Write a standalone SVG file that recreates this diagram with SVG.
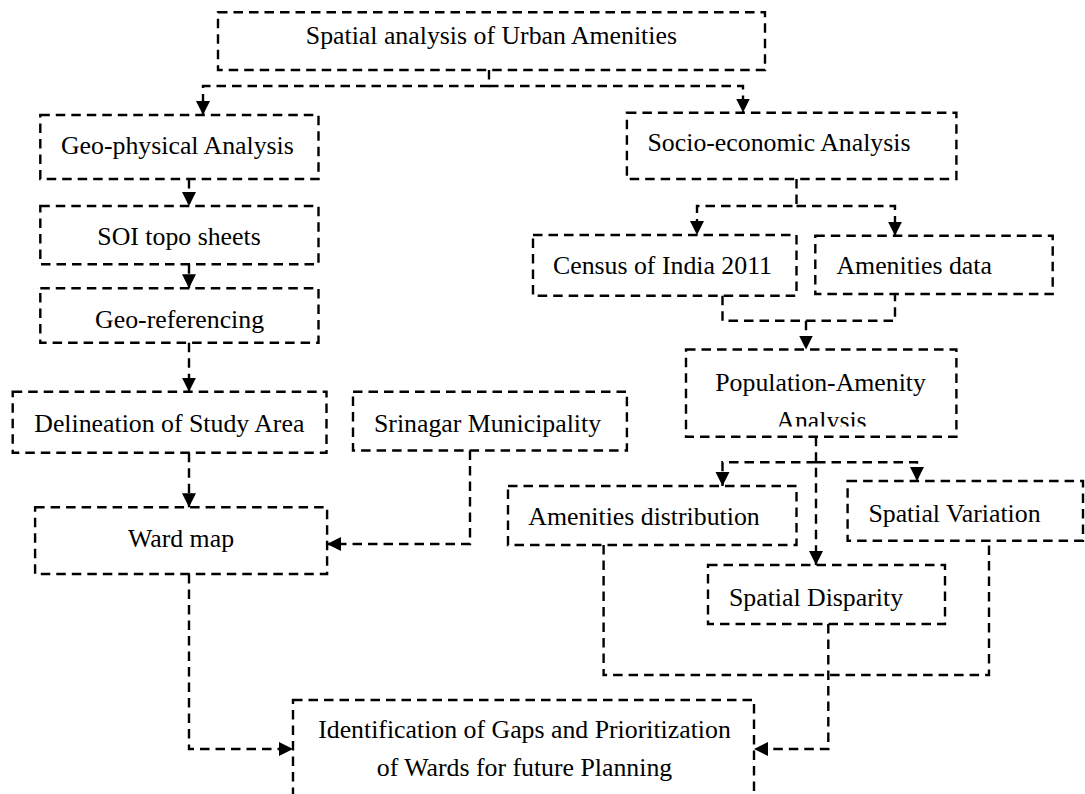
<svg xmlns="http://www.w3.org/2000/svg" width="1085" height="794" viewBox="0 0 1085 794">
<style>
.box{fill:none;stroke:#000;stroke-width:2.4;stroke-dasharray:9.5 6}
.con{fill:none;stroke:#000;stroke-width:2.4;stroke-dasharray:9.5 6}
.t{font-family:"Liberation Serif","Times New Roman",serif;font-size:25.8px;fill:#000;text-anchor:middle}
</style>
<defs>
<marker id="ah" markerUnits="userSpaceOnUse" markerWidth="15" markerHeight="15" refX="14" refY="7" orient="auto">
<path d="M0,0 L14,7 L0,14 Z" fill="#000"/>
</marker>
<clipPath id="clipA"><rect x="686" y="349" width="271" height="77.5"/></clipPath>
</defs>
<rect width="1085" height="794" fill="#fff"/>
<g id="connectors">
<path class="con" d="M489 70 V86 H203 V115" marker-end="url(#ah)"/>
<path class="con" d="M489 86 H743 V112.5" marker-end="url(#ah)"/>
<path class="con" d="M189 179 V206" marker-end="url(#ah)"/>
<path class="con" d="M189 264.3 V288.3" marker-end="url(#ah)"/>
<path class="con" d="M189 342.7 V391.7" marker-end="url(#ah)"/>
<path class="con" d="M189 452.7 V507.3" marker-end="url(#ah)"/>
<path class="con" d="M470 450.5 V544 H327" marker-end="url(#ah)"/>
<path class="con" d="M189 574 V749 H293" marker-end="url(#ah)"/>
<path class="con" d="M796.5 179 V206 H697 V235" marker-end="url(#ah)"/>
<path class="con" d="M796.5 206 H895 V235.7" marker-end="url(#ah)"/>
<path class="con" d="M722.5 295.7 V320.7 H895 V294"/>
<path class="con" d="M806 320.7 V349.5" marker-end="url(#ah)"/>
<path class="con" d="M816 436.7 V565" marker-end="url(#ah)"/>
<path class="con" d="M816 462.3 H722.5 V486" marker-end="url(#ah)"/>
<path class="con" d="M816 462.3 H917 V481" marker-end="url(#ah)"/>
<path class="con" d="M603.6 545 V675 H989 V540.7"/>
<path class="con" d="M828.3 624 V749 H754" marker-end="url(#ah)"/>
</g>
<g id="n-top"><rect class="box" x="218" y="12.3" width="547" height="57.7"/><text class="t" x="491.4" y="43.5">Spatial analysis of Urban Amenities</text></g>
<g id="n-geophys"><rect class="box" x="40.3" y="115" width="278.2" height="64"/><text class="t" x="177.4" y="154">Geo-physical Analysis</text></g>
<g id="n-socio"><rect class="box" x="626.9" y="112.7" width="329.5" height="66.3"/><text class="t" x="779" y="150.7">Socio-economic Analysis</text></g>
<g id="n-soi"><rect class="box" x="40.3" y="206" width="278.2" height="58.3"/><text class="t" x="179" y="245">SOI topo sheets</text></g>
<g id="n-georef"><rect class="box" x="40.3" y="288.3" width="278.2" height="54.4"/><text class="t" x="179.6" y="328.3">Geo-referencing</text></g>
<g id="n-census"><rect class="box" x="533" y="235" width="263.5" height="60.7"/><text class="t" x="662.5" y="274">Census of India 2011</text></g>
<g id="n-amdata"><rect class="box" x="815.3" y="235.7" width="237.4" height="58.3"/><text class="t" x="914.2" y="274">Amenities data</text></g>
<g id="n-delin"><rect class="box" x="12.7" y="391.7" width="313.8" height="61"/><text class="t" x="169.3" y="431.7">Delineation of Study Area</text></g>
<g id="n-srinagar"><rect class="box" x="353" y="391.7" width="273.9" height="58.8"/><text class="t" x="487.5" y="431.7">Srinagar Municipality</text></g>
<g id="n-popam"><rect class="box" x="686" y="349.5" width="270.4" height="87.2"/><text class="t" x="820.6" y="390.5">Population-Amenity</text><text class="t" x="821.5" y="429" clip-path="url(#clipA)">Analysis</text></g>
<g id="n-ward"><rect class="box" x="35.1" y="507.3" width="292" height="66.7"/><text class="t" x="181" y="546.7">Ward map</text></g>
<g id="n-amdist"><rect class="box" x="508" y="486" width="288.5" height="59"/><text class="t" x="644" y="525">Amenities distribution</text></g>
<g id="n-spvar"><rect class="box" x="847.6" y="481" width="235.4" height="59.7"/><text class="t" x="954.5" y="521.7">Spatial Variation</text></g>
<g id="n-spdisp"><rect class="box" x="708" y="565" width="237" height="59"/><text class="t" x="816" y="606">Spatial Disparity</text></g>
<g id="n-final"><rect class="box" x="293" y="700" width="461" height="130"/><text class="t" x="524.5" y="738.3">Identification of Gaps and Prioritization</text><text class="t" x="524.5" y="776">of Wards for future Planning</text></g>
</svg>
